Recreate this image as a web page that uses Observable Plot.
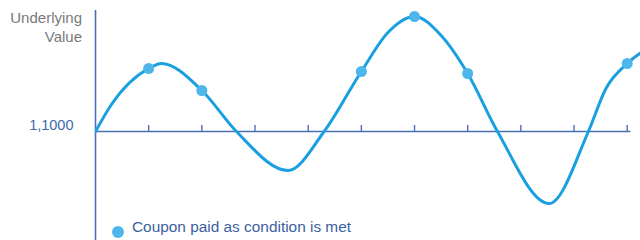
<!DOCTYPE html>
<html>
<head>
<meta charset="utf-8">
<script src="https://cdn.jsdelivr.net/npm/d3@7"></script>
<script src="https://cdn.jsdelivr.net/npm/@observablehq/plot@0.6"></script>
<style>
  html, body { margin: 0; padding: 0; background: #fff; }
  #wrap { position: relative; width: 640px; height: 240px; overflow: hidden; font-family: "Liberation Sans", Arial, sans-serif; }
  #wrap svg { position: absolute; left: 0; top: 0; }
  .ytitle { position: absolute; right: 558px; top: 8px; text-align: right; color: #7a7a7a; font-size: 15px; line-height: 19px; white-space: nowrap; }
  .legend-dot { position: absolute; left: 112px; top: 226px; width: 12px; height: 12px; border-radius: 50%; background: #4db6ea; }
  .legend-text { position: absolute; left: 132px; top: 218px; color: #3d5f9e; font-size: 15.4px; line-height: 17px; white-space: nowrap; }
</style>
</head>
<body>
<div id="wrap"></div>
<script>
// Observation dates (tick positions) and the underlying path
const observations = [1, 2, 3, 4, 5, 6, 7, 8, 9, 10];
const barrier = 1.1;
const barrierLabel = "1,1000";
const pathX = [0, 0.3, 1.0, 1.24, 2.0, 2.65, 3.62, 4.30, 5.0, 5.5, 6.0, 6.5, 7.0, 7.56, 8.53, 9.27, 9.6, 10.0, 10.32];
const pathY = [1.100, 1.127, 1.163, 1.168, 1.141, 1.100, 1.061, 1.100, 1.160, 1.199, 1.215, 1.196, 1.158, 1.100, 1.028, 1.100, 1.143, 1.168, 1.181];
const couponX = [1, 2, 5, 6, 7, 10];
const couponY = [1.163, 1.141, 1.160, 1.215, 1.158, 1.168];
const yTitle = ["Underlying", "Value"];
const legendText = "Coupon paid as condition is met";

const path = pathX.map((x, i) => ({x, y: pathY[i]}));
const coupons = couponX.map((x, i) => ({x, y: couponY[i]}));

const axisColor = "#4a70b2";
const lineColor = "#1a9fe0";
const dotColor = "#4db6ea";

const chart = Plot.plot({
  width: 640,
  height: 240,
  marginLeft: 95,
  marginRight: 0,
  marginTop: 0,
  marginBottom: 0,
  x: {domain: [0, 10.25], axis: null},
  y: {domain: [0.991, 1.231], axis: null},
  marks: [
    Plot.ruleY([barrier], {x1: 0, x2: 10.07, stroke: axisColor, strokeWidth: 1.6}),
    Plot.ruleX(observations, {y1: barrier, y2: barrier + 0.006, stroke: axisColor, strokeWidth: 1.4}),
    Plot.ruleX([0], {y1: 0.991, y2: 1.221, stroke: axisColor, strokeWidth: 1.6}),
    Plot.text([barrier], {x: 0, y: d => d, text: () => barrierLabel, textAnchor: "end", dx: -22, dy: -6, fill: "#3f69ad", fontSize: 14.5, fontFamily: "Liberation Sans, Arial, sans-serif"}),
    Plot.line(path, {x: "x", y: "y", stroke: lineColor, strokeWidth: 3, curve: "monotone-x", clip: true}),
    Plot.dot(coupons, {x: "x", y: "y", r: 5.5, fill: dotColor, stroke: "none"})
  ]
});

const wrap = document.getElementById("wrap");
wrap.appendChild(chart);
const t = document.createElement("div");
t.className = "ytitle";
t.innerHTML = yTitle.join("<br>");
wrap.appendChild(t);
const ld = document.createElement("div");
ld.className = "legend-dot";
wrap.appendChild(ld);
const lt = document.createElement("div");
lt.className = "legend-text";
lt.textContent = legendText;
wrap.appendChild(lt);
</script>
</body>
</html>
